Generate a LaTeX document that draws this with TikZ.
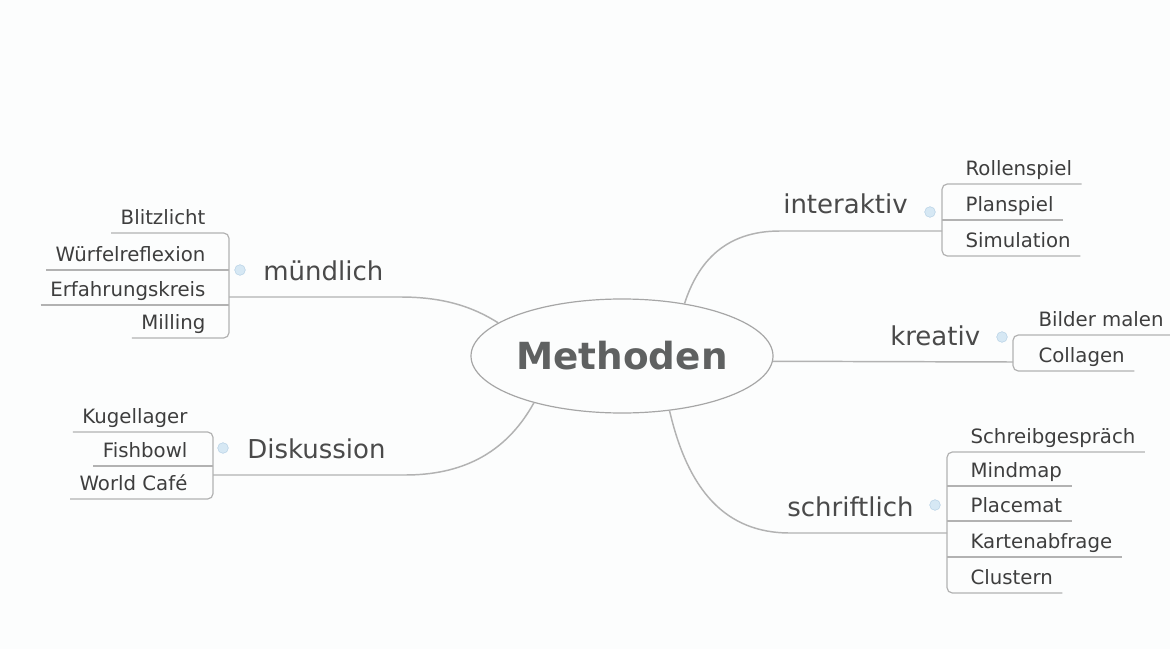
\documentclass[tikz,border=0pt]{standalone}
\usepackage{fontspec}
\setmainfont{DejaVu Sans}
\usetikzlibrary{shapes.geometric}
\definecolor{txt}{HTML}{3E3E3E}
\definecolor{subtxt}{HTML}{4A4A4A}
\definecolor{coretxt}{HTML}{5F6161}
\definecolor{ln}{HTML}{B2B2B2}
\definecolor{elln}{HTML}{A6A6A6}
\definecolor{bg}{HTML}{FCFDFD}
\definecolor{knobfill}{HTML}{D6E8F4}
\definecolor{knobline}{HTML}{B8D2E6}
\begin{document}
\begin{tikzpicture}[x=0.75pt,y=-0.75pt,
  branch/.style={draw=ln, line width=1.1pt},
  leafline/.style={draw=ln, line width=0.9pt, rounded corners=4pt},
  leafR/.style={font=\fontsize{14.8}{17}\selectfont, text=txt, inner xsep=7pt, inner ysep=0pt, text depth=6pt, anchor=south west},
  leafL/.style={leafR, anchor=south east},
  topic/.style={font=\fontsize{19.5}{23}\selectfont, text=subtxt, inner sep=0pt, anchor=base west},
  knob/.style={circle, fill=knobfill, draw=knobline, line width=0.4pt, minimum size=8pt, inner sep=0pt},
  core/.style={ellipse, draw=elln, line width=0.9pt, minimum width=226.5pt, minimum height=85.5pt, inner sep=0pt, font=\fontsize{28}{32}\selectfont\bfseries, text=coretxt}]
\fill[bg] (0,0) rectangle (1170,649);
\useasboundingbox (0,0) rectangle (1170,649);

% central node
\node[core] (m) at (622,356) {Methoden};

% bracket junctions
\coordinate (mub) at (229,297);
\coordinate (dib) at (213,475);
\coordinate (inb) at (942,231);
\coordinate (krb) at (1013,362);
\coordinate (scb) at (947,533);

% main branches
\draw[branch] (m.165) .. controls (470,305) and (440,297) .. (400,297) -- (mub);
\draw[branch] (m.208) .. controls (505,455) and (460,475) .. (405,475) -- (dib);
\draw[branch] (m.40) .. controls (698,262) and (725,231) .. (780,231) -- (inb);
\draw[branch] (m.-2) -- (krb);
\draw[branch] (m.-49) .. controls (688,490) and (725,533) .. (790,533) -- (scb);

% topic labels
\node[topic] (tmu) at (263,280) {mündlich};
\node[topic] (tdi) at (247,458) {Diskussion};
\node[topic] (tin) at (783,213) {interaktiv};
\node[topic] (tkr) at (890,345) {kreativ};
\node[topic] (tsc) at (787,516) {schriftlich};

% knobs
\node[knob] (kmu) at (240,270) {};
\node[knob] (kdi) at (223,448) {};
\node[knob] (kin) at (930,212) {};
\node[knob] (kkr) at (1002,337) {};
\node[knob] (ksc) at (935,505) {};

% muendlich leaves
\node[leafL] (mu1) at (215,233) {Blitzlicht};
\node[leafL] (mu2) at (215,270) {Würfelreflexion};
\node[leafL] (mu3) at (215,305) {Erfahrungskreis};
\node[leafL] (mu4) at (215,338) {Milling};
\draw[leafline] (mu1.south west) -- (mu1.south -| mub) -- (mu4.south -| mub) -- (mu4.south west);
\draw[leafline] (mu2.south west) -- (mu2.south -| mub);
\draw[leafline] (mu3.south west) -- (mu3.south -| mub);

% Diskussion leaves
\node[leafL] (di1) at (197,432) {Kugellager};
\node[leafL] (di2) at (197,466) {Fishbowl};
\node[leafL] (di3) at (197,499) {World Café};
\draw[leafline] (di1.south west) -- (di1.south -| dib) -- (di3.south -| dib) -- (di3.south west);
\draw[leafline] (di2.south west) -- (di2.south -| dib);

% interaktiv leaves
\node[leafR] (in1) at (956,184) {Rollenspiel};
\node[leafR] (in2) at (956,220) {Planspiel};
\node[leafR] (in3) at (956,256) {Simulation};
\draw[leafline] (in1.south east) -- (in1.south -| inb) -- (in3.south -| inb) -- (in3.south east);
\draw[leafline] (in2.south east) -- (in2.south -| inb);

% kreativ leaves
\node[leafR] (kr1) at (1029,335) {Bilder malen};
\node[leafR] (kr2) at (1029,371) {Collagen};
\draw[leafline] (kr1.south east) -- (kr1.south -| krb) -- (kr2.south -| krb) -- (kr2.south east);

% schriftlich leaves
\node[leafR] (sc1) at (961,452) {Schreibgespräch};
\node[leafR] (sc2) at (961,486) {Mindmap};
\node[leafR] (sc3) at (961,521) {Placemat};
\node[leafR] (sc4) at (961,557) {Kartenabfrage};
\node[leafR] (sc5) at (961,593) {Clustern};
\draw[leafline] (sc1.south east) -- (sc1.south -| scb) -- (sc5.south -| scb) -- (sc5.south east);
\draw[leafline] (sc2.south east) -- (sc2.south -| scb);
\draw[leafline] (sc3.south east) -- (sc3.south -| scb);
\draw[leafline] (sc4.south east) -- (sc4.south -| scb);
\end{tikzpicture}
\end{document}
